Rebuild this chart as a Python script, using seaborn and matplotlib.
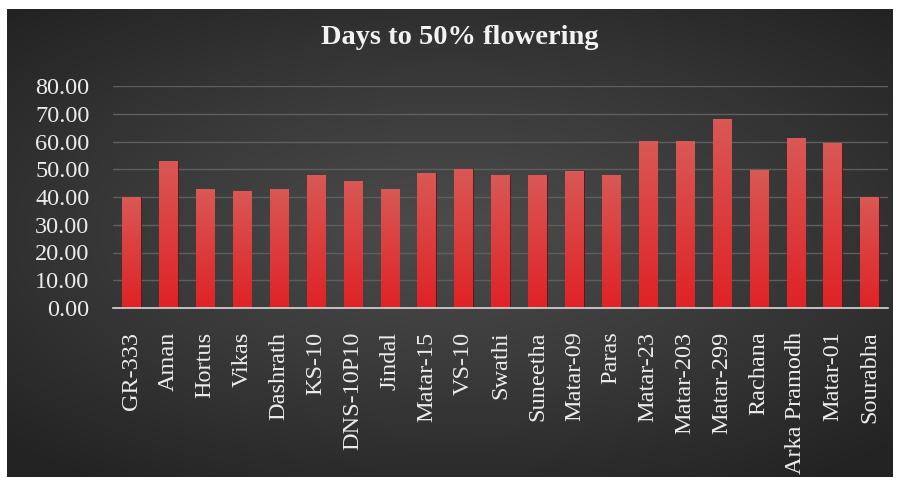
import numpy as np
import pandas as pd
import matplotlib
matplotlib.use("Agg")
import matplotlib.pyplot as plt
import seaborn as sns
from matplotlib.colors import LinearSegmentedColormap

varieties = ["GR-333", "Aman", "Hortus", "Vikas", "Dashrath", "KS-10", "DNS-10P10",
             "Jindal", "Matar-15", "VS-10", "Swathi", "Suneetha", "Matar-09", "Paras",
             "Matar-23", "Matar-203", "Matar-299", "Rachana", "Arka Pramodh", "Matar-01",
             "Sourabha"]
days = [40.0, 53.0, 42.8, 42.2, 42.8, 47.9, 45.8, 42.8, 48.5, 50.1, 47.9, 47.9,
        49.5, 47.9, 60.2, 60.2, 68.1, 49.7, 61.1, 59.6, 40.1]
yticks = [0, 10, 20, 30, 40, 50, 60, 70, 80]
title = "Days to 50% flowering"

df = pd.DataFrame({"Variety": varieties, "Days": days})

sns.set_theme(style="white")
plt.rcParams["font.family"] = ["Liberation Serif", "DejaVu Serif"]

W, H = 898, 478
fig = plt.figure(figsize=(W / 100, H / 100), dpi=100, facecolor="white")

# dark radial gradient panel
bg = fig.add_axes([7 / W, 1 - 477 / H, 886 / W, 468 / H])
yy, xx = np.mgrid[-1:1:300j, -1:1:500j]
r = np.sqrt((xx * 0.9) ** 2 + ((yy + 0.05) * 1.0) ** 2)
bgcmap = LinearSegmentedColormap.from_list("bg", ["#4c4c4c", "#393939", "#232323"])
bg.imshow(np.clip(r / 1.3, 0, 1), cmap=bgcmap, aspect="auto", extent=[0, 1, 0, 1])
bg.set_axis_off()

ax = fig.add_axes([113 / W, 1 - 308 / H, 775 / W, 222 / H])
ax.set_facecolor("none")
sns.barplot(data=df, x="Variety", y="Days", color="#d63a3a", width=0.5,
            edgecolor="#5a1010", linewidth=0.6, ax=ax, zorder=3)

# vertical gradient inside each bar
barcmap = LinearSegmentedColormap.from_list("bar", ["#e02226", "#d95855"])
grad = np.linspace(0, 1, 100).reshape(-1, 1)
for p in ax.patches:
    x0, y0 = p.get_x(), p.get_y()
    w, h = p.get_width(), p.get_height()
    im = ax.imshow(grad, cmap=barcmap, aspect="auto", origin="lower",
                   extent=[x0, x0 + w, y0, y0 + h], zorder=3.5)
    im.set_clip_path(p)

ax.set_xlim(-0.5, len(varieties) - 0.5)
ax.set_ylim(0, 80)
ax.set_yticks(yticks)
ax.set_yticklabels([f"{v:.2f}" for v in yticks], fontsize=17.5, color="#ececec")
ax.set_xticks(range(len(varieties)))
ax.set_xticklabels(varieties, rotation=90, fontsize=17.5, color="#ececec")
ax.tick_params(axis="y", length=0, pad=17)
ax.tick_params(axis="x", length=0, pad=17)
ax.yaxis.grid(True, color="#5e5e5e", linewidth=1.0, zorder=0)
ax.set_axisbelow(True)
for s in ["top", "right", "left"]:
    ax.spines[s].set_visible(False)
ax.spines["bottom"].set_color("#d8d8d8")
ax.spines["bottom"].set_linewidth(1.2)
ax.spines["bottom"].set_zorder(5)
ax.set_xlabel("")
ax.set_ylabel("")

fig.text(460 / W, 1 - 37 / H, title, ha="center", va="center", fontsize=20.5,
         fontweight="bold", color="#f2f2f2")

fig.savefig("out.png", dpi=100, facecolor="white")
